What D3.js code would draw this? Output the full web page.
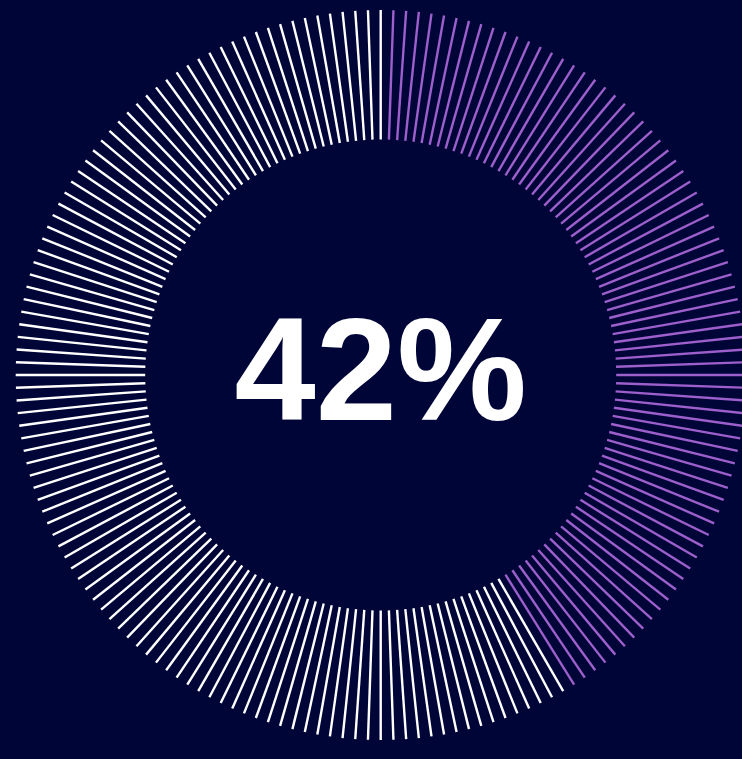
<!DOCTYPE html>
<html>
<head>
<meta charset="utf-8">
<script src="https://cdn.jsdelivr.net/npm/d3@7"></script>
<style>
  html, body { margin: 0; padding: 0; background: #000538; overflow: hidden; }
  svg { display: block; }
</style>
</head>
<body>
<script>
// ---- data ----
const percentValue = 42;          // displayed value
const tickCount = [180];          // number of radial ticks around the ring
const activeTicks = [1, 74];      // first and last highlighted tick index
const labelText = ["42%"];

// ---- layout ----
const W = 742, H = 759;
const cx = 380.7, cy = 375;
const rInner = 235.5, rOuter = 365;

const svg = d3.select("body").append("svg")
  .attr("width", W).attr("height", H);

svg.append("rect").attr("width", W).attr("height", H).attr("fill", "#000538");

const n = tickCount[0];
const angle = d3.scaleLinear().domain([0, n]).range([0, 2 * Math.PI]);
const radius = d3.scaleLinear().domain([0, 1]).range([rInner, rOuter]);

const ticks = d3.range(n).map(i => ({
  i,
  a: angle(i),
  active: i >= activeTicks[0] && i <= activeTicks[1]
}));

const g = svg.append("g").attr("transform", `translate(${cx},${cy})`);

g.selectAll("line.tick")
  .data(ticks)
  .join("line")
  .attr("class", "tick")
  .attr("x1", d => radius(0) * Math.sin(d.a))
  .attr("y1", d => -radius(0) * Math.cos(d.a))
  .attr("x2", d => radius(1) * Math.sin(d.a))
  .attr("y2", d => -radius(1) * Math.cos(d.a))
  .attr("stroke", d => d.active ? "#9d5fcb" : "#ffffff")
  .attr("stroke-width", 2.4)
  .attr("stroke-linecap", "butt");

svg.append("text")
  .attr("x", cx)
  .attr("y", 420)
  .attr("text-anchor", "middle")
  .attr("font-family", "'Liberation Sans', Arial, Helvetica, sans-serif")
  .attr("font-weight", "bold")
  .attr("font-size", 146)
  .attr("fill", "#ffffff")
  .text(labelText[0] || (percentValue + "%"));
</script>
</body>
</html>
